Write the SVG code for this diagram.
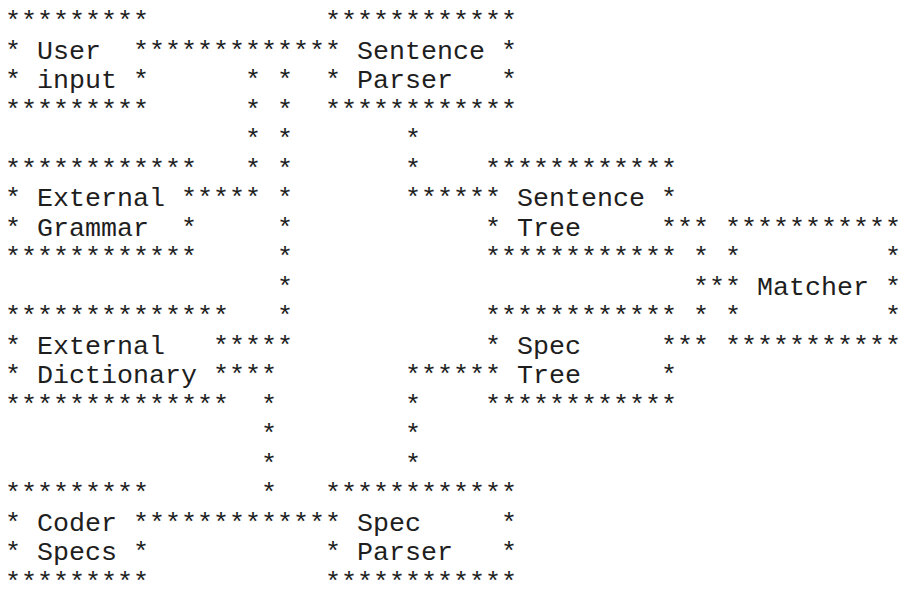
<svg xmlns="http://www.w3.org/2000/svg" width="903" height="597" viewBox="0 0 903 597" xml:space="preserve">
<style>
text { font-family: "Liberation Mono", "Courier New", monospace; font-size: 26.667px; fill: #1e1e1e; white-space: pre; }
</style>
<rect width="903" height="597" fill="#ffffff"/>
<g id="connectors">
<text x="149" y="58.5">***********</text>
<text x="245" y="88">* *</text>
<text x="245" y="117.5">* *</text>
<text x="245" y="147">* *</text><text x="405" y="147">*</text>
<text x="245" y="176.5">* *</text><text x="405" y="176.5">*</text>
<text x="197" y="206">**** *</text><text x="405" y="206">*****</text>
<text x="277" y="235.5">*</text><text x="677" y="235.5">**</text>
<text x="277" y="265">*</text><text x="693" y="265">*</text>
<text x="277" y="294.5">*</text><text x="693" y="294.5">**</text>
<text x="277" y="324">*</text><text x="693" y="324">*</text>
<text x="229" y="353.5">****</text><text x="677" y="353.5">**</text>
<text x="229" y="383">***</text><text x="405" y="383">*****</text>
<text x="261" y="412.5">*</text><text x="405" y="412.5">*</text>
<text x="261" y="442">*</text><text x="405" y="442">*</text>
<text x="261" y="471.5">*</text><text x="405" y="471.5">*</text>
<text x="261" y="501">*</text>
<text x="149" y="530.5">***********</text>
</g>
<g id="user-input">
<text x="5" y="29">*********</text>
<text x="5" y="58.5">* User  *</text>
<text x="5" y="88">* input *</text>
<text x="5" y="117.5">*********</text>
</g>
<g id="sentence-parser">
<text x="325" y="29">************</text>
<text x="325" y="58.5">* Sentence *</text>
<text x="325" y="88">* Parser   *</text>
<text x="325" y="117.5">************</text>
</g>
<g id="external-grammar">
<text x="5" y="176.5">************</text>
<text x="5" y="206">* External *</text>
<text x="5" y="235.5">* Grammar  *</text>
<text x="5" y="265">************</text>
</g>
<g id="sentence-tree">
<text x="485" y="176.5">************</text>
<text x="485" y="206">* Sentence *</text>
<text x="485" y="235.5">* Tree     *</text>
<text x="485" y="265">************</text>
</g>
<g id="matcher">
<text x="725" y="235.5">***********</text>
<text x="725" y="265">*         *</text>
<text x="725" y="294.5">* Matcher *</text>
<text x="725" y="324">*         *</text>
<text x="725" y="353.5">***********</text>
</g>
<g id="external-dictionary">
<text x="5" y="324">**************</text>
<text x="5" y="353.5">* External   *</text>
<text x="5" y="383">* Dictionary *</text>
<text x="5" y="412.5">**************</text>
</g>
<g id="spec-tree">
<text x="485" y="324">************</text>
<text x="485" y="353.5">* Spec     *</text>
<text x="485" y="383">* Tree     *</text>
<text x="485" y="412.5">************</text>
</g>
<g id="coder-specs">
<text x="5" y="501">*********</text>
<text x="5" y="530.5">* Coder *</text>
<text x="5" y="560">* Specs *</text>
<text x="5" y="589.5">*********</text>
</g>
<g id="spec-parser">
<text x="325" y="501">************</text>
<text x="325" y="530.5">* Spec     *</text>
<text x="325" y="560">* Parser   *</text>
<text x="325" y="589.5">************</text>
</g>
</svg>
